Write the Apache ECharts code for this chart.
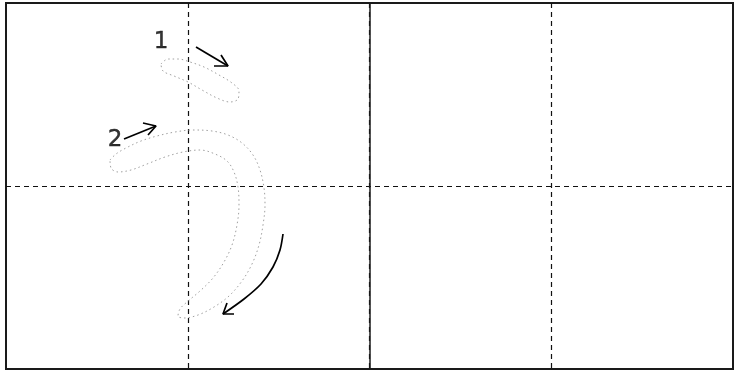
<!DOCTYPE html>
<html>
<head>
<meta charset="utf-8">
<script src="https://cdn.jsdelivr.net/npm/echarts@6/dist/echarts.min.js"></script>
<style>
  html, body { margin: 0; padding: 0; background: #fff; }
  #chart { width: 735px; height: 372px; }
</style>
</head>
<body>
<div id="chart"></div>
<script>
// practice sheet: 4 columns x 2 rows of cells, middle column line is solid
const cellCols = 4;
const cellRows = 2;
const solidCol = [2];

// stroke outlines of "う" (page pixel coords)
const stroke1 = [[161,64],[168,59],[178,59],[190,62],[204,67],[219,75],[232,83],[239,91],[238,99],[230,102],[217,98],[202,90],[188,82],[174,76],[163,71],[161,64]];
const stroke2 = [[110,160],[116,154],[126,148],[141,141],[157,136],[175,132],[193,130],[212,131],[228,135],[242,143],[253,155],[260,170],[264,188],[265,205],[263,225],[259,245],[252,264],[242,281],[229,296],[214,307],[198,315],[184,318],
                 [178,316],[180,309],
                 [187,302],[200,291],[213,278],[224,262],[232,245],[237,225],[239,205],[238,187],[234,172],[227,161],[215,154],[200,150],[183,152],[165,157],[147,164],[131,170],[118,172],[111,168],[110,160]];

// direction arrows
const arrow1 = [[196,47],[228,66]];
const arrow1Head = [[214,66],[228,66],[221,55]];
const arrow2 = [[124,139],[156,126]];
const arrow2Head = [[143,123],[156,126],[148,135]];
const arrow3 = [[283,234],[280,250],[273,267],[261,284],[244,299],[223,314]];
const arrow3Head = [[234,314],[223,314],[227,303]];

// stroke order numbers
const orderLabels = [{ name: '1', value: [161,42] }, { name: '2', value: [115,140] }];

const chart = echarts.init(document.getElementById('chart'), null, { renderer: 'canvas' });

const guideLine = { show: true, lineStyle: { color: '#111', width: 1.2, type: [5, 4] }, showMinLine: false, showMaxLine: false };
const hidden = { show: false };

function outline(data) {
    return {
        type: 'line', xAxisIndex: 1, yAxisIndex: 1, data: data, smooth: 0.35,
        symbol: 'none', silent: true,
        lineStyle: { color: '#a0a0a0', width: 1, type: [1.5, 3] }
    };
}
function ink(data, smooth) {
    return {
        type: 'line', xAxisIndex: 1, yAxisIndex: 1, data: data, smooth: smooth || false,
        symbol: 'none', silent: true,
        lineStyle: { color: '#000', width: 1.7 }
    };
}

const option = {
    backgroundColor: '#fff',
    animation: false,
    grid: [
        { left: 6, right: 2, top: 3, bottom: 3, show: true, borderColor: '#1a1a1a', borderWidth: 2, backgroundColor: 'transparent' },
        { left: 0, right: 0, top: 0, bottom: 0 }
    ],
    xAxis: [
        { type: 'value', gridIndex: 0, min: 0, max: cellCols, interval: 1, splitLine: guideLine,
          axisLine: hidden, axisTick: hidden, axisLabel: hidden },
        { type: 'value', gridIndex: 1, min: 0, max: 735, show: false }
    ],
    yAxis: [
        { type: 'value', gridIndex: 0, min: 0, max: cellRows, interval: 1, inverse: true, splitLine: guideLine,
          axisLine: hidden, axisTick: hidden, axisLabel: hidden },
        { type: 'value', gridIndex: 1, min: 0, max: 372, inverse: true, show: false }
    ],
    series: [
        {
            type: 'line', xAxisIndex: 0, yAxisIndex: 0, data: [], silent: true,
            markLine: {
                silent: true, symbol: 'none', label: { show: false },
                lineStyle: { color: '#1a1a1a', width: 1.5, type: 'solid' },
                data: solidCol.map(function (c) { return { xAxis: c }; })
            }
        },
        outline(stroke1),
        outline(stroke2),
        ink(arrow1),
        ink(arrow1Head),
        ink(arrow2),
        ink(arrow2Head),
        ink(arrow3, 0.3),
        ink(arrow3Head),
        {
            type: 'scatter', xAxisIndex: 1, yAxisIndex: 1, data: orderLabels, symbolSize: 0, silent: true,
            label: {
                show: true, position: 'inside', formatter: '{b}',
                fontFamily: 'DejaVu Sans', fontSize: 23, color: '#000',
                textBorderWidth: 0.4, textBorderColor: '#000'
            }
        }
    ]
};

chart.setOption(option);
</script>
</body>
</html>
